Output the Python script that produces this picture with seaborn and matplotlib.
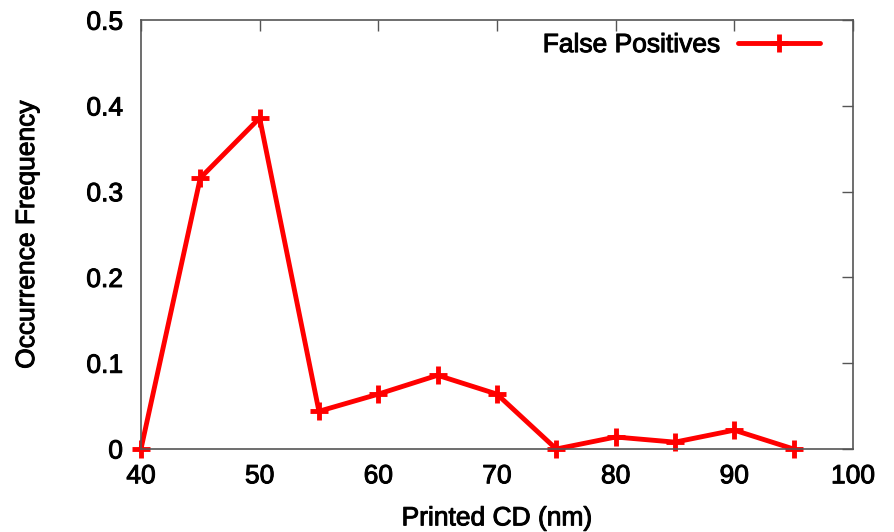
import matplotlib
matplotlib.use("Agg")
import matplotlib.pyplot as plt
import matplotlib.patheffects as pe
import seaborn as sns
import pandas as pd

cd_nm = [40, 45, 50, 55, 60, 65, 70, 75, 80, 85, 90, 95]
false_positives = [0.0, 0.316, 0.386, 0.044, 0.064, 0.086, 0.064, 0.0, 0.014, 0.008, 0.022, 0.0]
series_name = "False Positives"
x_ticks = [40, 50, 60, 70, 80, 90, 100]
y_ticks = [0, 0.1, 0.2, 0.3, 0.4, 0.5]
y_tick_labels = ["0", "0.1", "0.2", "0.3", "0.4", "0.5"]

sns.set_style("white")
plt.rcParams['font.family'] = ['Liberation Sans', 'DejaVu Sans']
plt.rcParams['text.color'] = 'black'
plt.rcParams['axes.labelcolor'] = 'black'
plt.rcParams['xtick.color'] = 'black'
plt.rcParams['ytick.color'] = 'black'

FS = 19
thick = [pe.withStroke(linewidth=0.7, foreground="black")]

df = pd.DataFrame({"cd": cd_nm, "freq": false_positives, "series": series_name})

fig = plt.figure(figsize=(8.95, 5.32), dpi=100)
ax = fig.add_axes([0.1575, 0.156, 0.7955, 0.806])

sns.lineplot(data=df, x="cd", y="freq", hue="series", palette=["#ff0000"],
             marker="P", ax=ax, linewidth=3.5, legend=True)
for line in ax.lines:
    line.set_marker("+")
    line.set_markersize(13)
    line.set_markeredgewidth(3.5)
    line.set_markeredgecolor("#ff0000")
    line.set_clip_on(False)

ax.set_xlim(40, 100)
ax.set_ylim(0, 0.5)
ax.set_xticks(x_ticks)
ax.set_yticks(y_ticks)
ax.set_yticklabels(y_tick_labels)
ax.tick_params(axis="both", direction="in", length=8, width=1, color="#555555",
               labelsize=FS, top=True, right=True)
ax.tick_params(axis="x", pad=11)
ax.tick_params(axis="y", pad=13)
for lbl in ax.get_xticklabels() + ax.get_yticklabels():
    lbl.set_path_effects(thick)
for s in ax.spines.values():
    s.set_color("#555555")
    s.set_linewidth(1.2)
    s.set_visible(True)

ax.set_xlabel("Printed CD (nm)", fontsize=FS, labelpad=13, path_effects=thick)
ax.set_ylabel("Occurrence Frequency", fontsize=FS, labelpad=34, path_effects=thick)

leg = ax.legend(loc="upper right", frameon=False, markerfirst=False,
                prop={"size": FS},
                handlelength=3.1, handletextpad=0.68, borderpad=0,
                bbox_to_anchor=(0.9537, 0.97), borderaxespad=0)
for t in leg.get_texts():
    t.set_path_effects(thick)
for h in leg.legend_handles:
    h.set_marker("+")
    h.set_markersize(13)
    h.set_markeredgewidth(3.5)
    h.set_linewidth(3.5)

fig.savefig("out.png", dpi=100)
